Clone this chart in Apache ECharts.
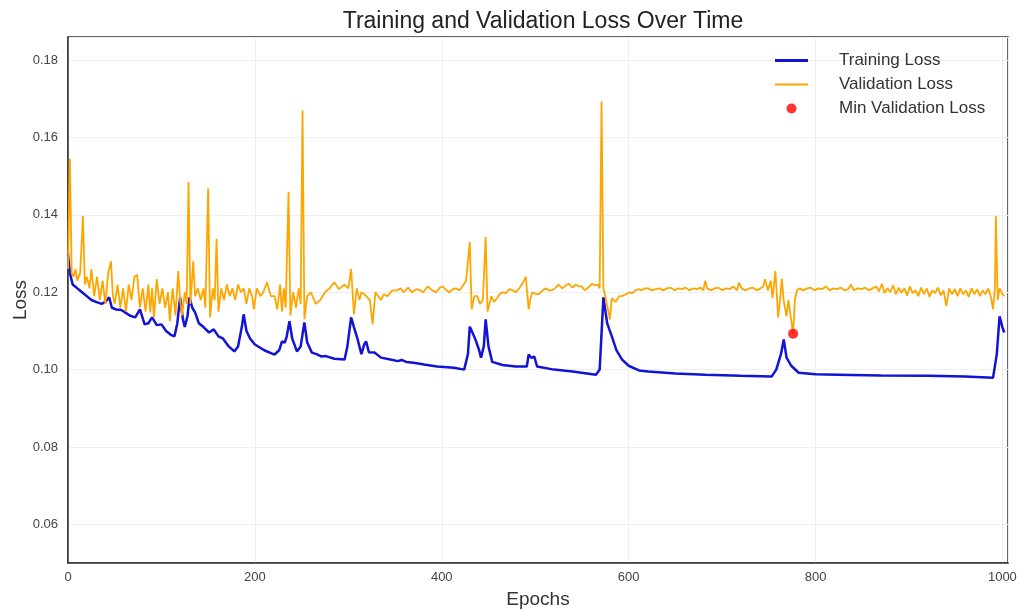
<!DOCTYPE html>
<html>
<head>
<meta charset="utf-8">
<title>Training and Validation Loss Over Time</title>
<script src="https://cdn.jsdelivr.net/npm/echarts@6/dist/echarts.min.js"></script>
<style>
  html, body { margin: 0; padding: 0; background: #fff; }
  #chart { width: 1021px; height: 610px; }
</style>
</head>
<body>
<div id="chart"></div>
<script>
// training loss (epoch, loss)
var trainEpochs = [0, 2, 5, 10, 15, 20, 25, 30, 36, 40, 44, 47, 52, 56, 60, 66, 72, 77, 82, 86,
  90, 95, 100, 105, 110, 114, 117, 120, 123, 125, 128, 130, 133, 136, 140, 145, 151, 156, 161, 166,
  172, 178, 182, 186, 188, 191, 195, 200, 210, 221, 226, 229, 232, 234, 237, 240, 245, 249, 253, 256,
  261, 266, 271, 276, 285, 296, 299, 303, 306, 310, 314, 317, 319, 322, 328, 335, 345, 353, 357, 362,
  370, 381, 395, 413, 424, 428, 430, 433, 436, 440, 442, 445, 447, 450, 454, 465, 479, 491, 493, 496,
  499, 502, 520, 540, 565, 569, 573, 577, 582, 587, 593, 600, 611, 621, 650, 682, 720, 753, 758, 763,
  766, 769, 774, 782, 800, 824, 870, 920, 960, 990, 994, 997, 1000, 1002];
var trainLoss = [0.130, 0.125, 0.122, 0.121, 0.120, 0.119, 0.118, 0.1175, 0.117, 0.1175, 0.1187, 0.116, 0.1155, 0.1155, 0.115, 0.114, 0.1135, 0.1156, 0.1117, 0.112,
  0.1135, 0.1115, 0.1117, 0.110, 0.109, 0.1086, 0.112, 0.1187, 0.113, 0.111, 0.114, 0.1187, 0.116, 0.1148, 0.112, 0.111, 0.1096, 0.1104, 0.1086, 0.108,
  0.106, 0.1047, 0.106, 0.111, 0.1143, 0.110, 0.108, 0.1065, 0.105, 0.1039, 0.105, 0.1073, 0.107, 0.1085, 0.1125, 0.108, 0.1047, 0.106, 0.1122, 0.107,
  0.1044, 0.104, 0.1034, 0.1035, 0.1028, 0.1026, 0.106, 0.1135, 0.111, 0.1078, 0.104, 0.1065, 0.1073, 0.1045, 0.1044, 0.1031, 0.1026, 0.1022, 0.1025, 0.102,
  0.1018, 0.1013, 0.1008, 0.1005, 0.1000, 0.104, 0.1111, 0.1095, 0.1078, 0.105, 0.1031, 0.106, 0.113, 0.106, 0.102, 0.1012, 0.1008, 0.1008, 0.1039, 0.103,
  0.1034, 0.1008, 0.1000, 0.0995, 0.0987, 0.100, 0.1187, 0.112, 0.1086, 0.105, 0.1026, 0.101, 0.0998, 0.0995, 0.0990, 0.0987, 0.0984, 0.0982, 0.1000, 0.104,
  0.1078, 0.1031, 0.101, 0.0992, 0.0988, 0.0987, 0.0985, 0.0984, 0.0982, 0.0979, 0.104, 0.1138, 0.111, 0.1096];

// validation loss
var valEpochs = [0, 2, 4, 6, 8, 10, 13, 16, 18, 20, 23, 25, 28, 31, 34, 37, 40, 43, 46, 48,
  50, 53, 56, 59, 62, 65, 68, 71, 74, 77, 80, 83, 86, 88, 90, 92, 95, 98, 101, 104,
  107, 109, 112, 115, 118, 120, 122, 125, 127, 129, 131, 134, 136, 139, 142, 145, 147, 150, 152, 155,
  157, 159, 161, 164, 167, 170, 173, 176, 179, 182, 185, 188, 191, 194, 197, 199, 202, 206, 209, 213,
  217, 221, 224, 227, 229, 231, 233, 236, 238, 241, 244, 247, 249, 251, 253, 256, 260, 265, 270, 275,
  280, 285, 290, 296, 300, 303, 306, 309, 312, 314, 317, 319, 323, 326, 329, 331, 335, 338, 342, 347,
  352, 356, 359, 364, 368, 373, 377, 380, 385, 390, 394, 398, 401, 405, 408, 412, 415, 419, 422, 426,
  430, 432, 435, 438, 441, 444, 447, 449, 453, 456, 458, 462, 465, 469, 472, 476, 479, 483, 487, 490,
  493, 495, 497, 501, 504, 508, 511, 515, 518, 522, 525, 529, 533, 536, 540, 543, 547, 550, 553, 555,
  558, 561, 564, 567, 569, 571, 573, 575, 577, 580, 582, 586, 590, 593, 597, 601, 604, 607, 611, 614,
  617, 621, 625, 629, 633, 637, 641, 645, 649, 653, 657, 661, 665, 669, 673, 677, 680, 682, 684, 688,
  692, 696, 700, 704, 708, 712, 716, 718, 721, 725, 729, 733, 737, 741, 744, 746, 749, 752, 754, 757,
  760, 762, 764, 766, 769, 771, 773, 776, 778, 780, 783, 787, 791, 795, 799, 803, 807, 811, 815, 819,
  823, 827, 831, 835, 838, 841, 845, 849, 853, 857, 861, 865, 868, 871, 874, 877, 880, 883, 886, 889,
  892, 895, 898, 901, 904, 907, 910, 913, 916, 919, 922, 925, 928, 931, 934, 937, 940, 943, 946, 949,
  952, 955, 958, 961, 964, 967, 970, 973, 976, 979, 982, 985, 988, 990, 992, 993, 995, 997, 1000, 1002];
var valLoss = [0.126, 0.1545, 0.125, 0.124, 0.126, 0.123, 0.125, 0.1397, 0.122, 0.124, 0.121, 0.126, 0.119, 0.124, 0.118, 0.123, 0.117, 0.125, 0.128, 0.119,
  0.117, 0.122, 0.116, 0.121, 0.115, 0.122, 0.118, 0.124, 0.1245, 0.116, 0.121, 0.115, 0.122, 0.1148, 0.121, 0.1135, 0.1234, 0.117, 0.121, 0.116,
  0.120, 0.1125, 0.121, 0.114, 0.1255, 0.118, 0.114, 0.120, 0.117, 0.1486, 0.117, 0.128, 0.119, 0.121, 0.118, 0.121, 0.116, 0.1468, 0.1135, 0.121,
  0.118, 0.1338, 0.115, 0.121, 0.118, 0.122, 0.119, 0.121, 0.118, 0.122, 0.120, 0.121, 0.117, 0.121, 0.119, 0.1156, 0.121, 0.119, 0.120, 0.1226,
  0.119, 0.119, 0.1156, 0.122, 0.115, 0.121, 0.116, 0.146, 0.114, 0.120, 0.116, 0.121, 0.117, 0.167, 0.113, 0.119, 0.120, 0.117, 0.118, 0.120,
  0.121, 0.1226, 0.1208, 0.122, 0.121, 0.126, 0.1143, 0.121, 0.118, 0.120, 0.1195, 0.119, 0.118, 0.1117, 0.120, 0.120, 0.118, 0.1195, 0.119, 0.1205,
  0.1205, 0.121, 0.120, 0.1212, 0.120, 0.1208, 0.1205, 0.120, 0.1215, 0.1205, 0.120, 0.1212, 0.1215, 0.1205, 0.120, 0.1208, 0.121, 0.1205, 0.1215, 0.123,
  0.133, 0.1156, 0.119, 0.119, 0.117, 0.118, 0.1343, 0.115, 0.119, 0.1175, 0.118, 0.1195, 0.120, 0.1198, 0.1208, 0.1205, 0.120, 0.121, 0.1226, 0.124,
  0.1156, 0.1185, 0.120, 0.1195, 0.1195, 0.1205, 0.121, 0.1205, 0.1205, 0.1212, 0.122, 0.121, 0.1218, 0.1222, 0.1212, 0.122, 0.1215, 0.1215, 0.1205, 0.1208,
  0.1215, 0.1222, 0.1218, 0.122, 0.121, 0.1693, 0.121, 0.119, 0.1165, 0.113, 0.1185, 0.1175, 0.119, 0.119, 0.1195, 0.120, 0.1198, 0.1205, 0.1208, 0.1205,
  0.121, 0.121, 0.1205, 0.1208, 0.121, 0.1205, 0.121, 0.1212, 0.1205, 0.121, 0.1208, 0.1212, 0.1205, 0.121, 0.1208, 0.1212, 0.1205, 0.123, 0.121, 0.1205,
  0.121, 0.1212, 0.1205, 0.121, 0.1208, 0.1215, 0.1205, 0.1225, 0.121, 0.1205, 0.121, 0.1212, 0.1205, 0.121, 0.1215, 0.1234, 0.1205, 0.123, 0.1185, 0.1255,
  0.1135, 0.118, 0.1235, 0.1177, 0.1138, 0.118, 0.1177, 0.1093, 0.118, 0.1205, 0.121, 0.1205, 0.121, 0.1212, 0.1205, 0.121, 0.1208, 0.1215, 0.1205, 0.121,
  0.1208, 0.1212, 0.1205, 0.1208, 0.122, 0.1205, 0.121, 0.1208, 0.1212, 0.1205, 0.121, 0.1215, 0.1202, 0.1222, 0.1198, 0.121, 0.120, 0.1218, 0.1195, 0.1212,
  0.1198, 0.121, 0.1192, 0.1215, 0.1198, 0.1205, 0.119, 0.1212, 0.1195, 0.121, 0.1188, 0.1205, 0.1198, 0.1212, 0.1192, 0.1205, 0.1164, 0.121, 0.1195, 0.1208,
  0.119, 0.121, 0.1195, 0.1205, 0.1188, 0.121, 0.1195, 0.1208, 0.119, 0.1205, 0.1195, 0.121, 0.1185, 0.1156, 0.121, 0.1397, 0.118, 0.121, 0.1195, 0.119];

// lowest validation loss
var minEpoch = [776];
var minLoss = [0.1093];

function pairs(xs, ys) {
  var out = [];
  for (var i = 0; i < xs.length; i++) out.push([xs[i], ys[i]]);
  return out;
}

// legend handles: a flat bar, padded with dots so it keeps the full icon box
var thickLine = 'path://M0,0L0.01,0Z M0,3.5L33,3.5L33,6.5L0,6.5Z M0,10L0.01,10Z';
var thinLine = 'path://M0,0L0.01,0Z M0,4L33,4L33,6L0,6Z M0,10L0.01,10Z';

var myChart = echarts.init(document.getElementById('chart'));

var option = {
  backgroundColor: '#fff',
  animation: false,
  textStyle: { fontFamily: 'Liberation Sans, Arial, sans-serif' },
  title: {
    text: 'Training and Validation Loss Over Time',
    left: 538,
    textAlign: 'center',
    top: 5,
    textStyle: { fontSize: 23, fontWeight: 'normal', color: '#222' }
  },
  legend: {
    orient: 'vertical',
    left: 770,
    top: 47,
    itemWidth: 33,
    itemHeight: 10,
    itemGap: 7,
    textStyle: { fontSize: 17, color: '#333', padding: [0, 0, 0, 26] },
    data: [
      { name: 'Training Loss', icon: thickLine },
      { name: 'Validation Loss', icon: thinLine },
      { name: 'Min Validation Loss', icon: 'circle' }
    ]
  },
  grid: {
    left: 68, right: 13, top: 37, bottom: 47,
    outerBoundsMode: 'none',
    show: true, borderColor: '#333', borderWidth: 1.5
  },
  xAxis: {
    type: 'value',
    min: 0, max: 1006, interval: 200,
    name: 'Epochs',
    nameLocation: 'middle',
    nameGap: 27,
    nameTextStyle: { fontSize: 19, color: '#333' },
    axisLine: { show: true, lineStyle: { color: '#333', width: 1.5 } },
    axisTick: { show: false },
    axisLabel: {
      color: '#444', fontSize: 13, margin: 8, showMaxLabel: false,
      formatter: function (v) { return String(v); }
    },
    splitLine: { show: true, lineStyle: { color: '#efefef' } }
  },
  yAxis: {
    type: 'value',
    min: 0.05, max: 0.186, minInterval: 0.02, maxInterval: 0.02,
    name: 'Loss',
    nameLocation: 'middle',
    nameGap: 38,
    nameMoveOverlap: false,
    nameTextStyle: { fontSize: 19, color: '#333' },
    axisLine: { show: true, lineStyle: { color: '#333', width: 1.5 } },
    axisTick: { show: false },
    axisLabel: {
      color: '#444', fontSize: 13, margin: 10,
      showMinLabel: false, showMaxLabel: false,
      formatter: function (v) { return v.toFixed(2); }
    },
    splitLine: { show: true, lineStyle: { color: '#efefef' } }
  },
  series: [
    {
      name: 'Training Loss',
      type: 'line',
      data: pairs(trainEpochs, trainLoss),
      symbol: 'none',
      lineStyle: { color: '#1212d8', width: 2.5 },
      itemStyle: { color: '#1212d8' }
    },
    {
      name: 'Validation Loss',
      type: 'line',
      data: pairs(valEpochs, valLoss),
      symbol: 'none',
      lineStyle: { color: '#ffa500', width: 1.8 },
      itemStyle: { color: '#ffa500' }
    },
    {
      name: 'Min Validation Loss',
      type: 'scatter',
      data: pairs(minEpoch, minLoss),
      symbolSize: 10,
      itemStyle: { color: '#ff0000' },
      z: 5
    }
  ]
};

myChart.setOption(option);
</script>
</body>
</html>
